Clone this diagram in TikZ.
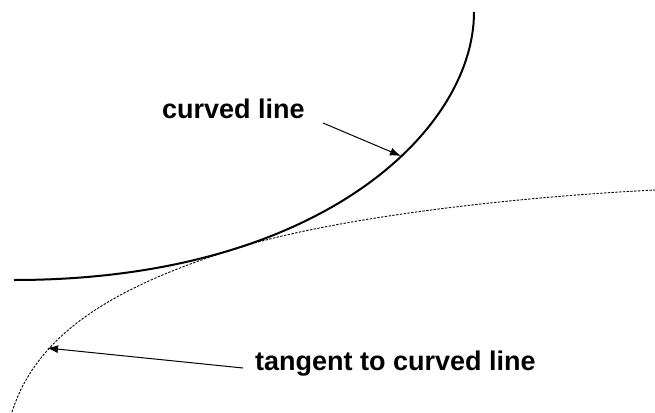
\documentclass[tikz,border=0pt]{standalone}
\usepackage{fontspec}
\setmainfont{Liberation Sans}
\usetikzlibrary{arrows.meta}
\tikzset{
  labeltext/.style={inner sep=0pt, anchor=base west, font=\fontsize{27}{31}\selectfont\bfseries},
  solidcurve/.style={line width=2pt},
  tangentcurve/.style={line width=0.9pt, dash pattern=on 2.4pt off 1.4pt},
  pointer/.style={line width=1pt, -{Latex[length=11pt,width=8pt]}}
}
\begin{document}
\begin{tikzpicture}[x=1pt,y=-1pt]
\useasboundingbox (0,0) rectangle (655,412);
% solid curve
\coordinate (s0) at (14,280);
\coordinate (s1) at (474,12);
\draw[solidcurve] (s0) .. controls (320,280) and (474,130) .. (s1);
% tangent (dotted) curve, touching the solid one at (t)
\coordinate (d0) at (12,412);
\coordinate (t) at (235.3,248.7);
\coordinate (d1) at (655,190);
\draw[tangentcurve] (d0) .. controls (38,330) and (120.8,284.8) .. (t)
                         .. controls (330.4,218.6) and (505,197.5) .. (d1);
% labels
\node[labeltext] (lc) at (162,118) {curved line};
\node[labeltext] (lt) at (255,370) {tangent to curved line};
% arrows
\coordinate (ac0) at (323,123);
\coordinate (ac1) at (401,156);
\draw[pointer] (ac0) -- (ac1);
\coordinate (at0) at (243,368);
\coordinate (at1) at (47,348);
\draw[pointer] (at0) -- (at1);
\end{tikzpicture}
\end{document}
